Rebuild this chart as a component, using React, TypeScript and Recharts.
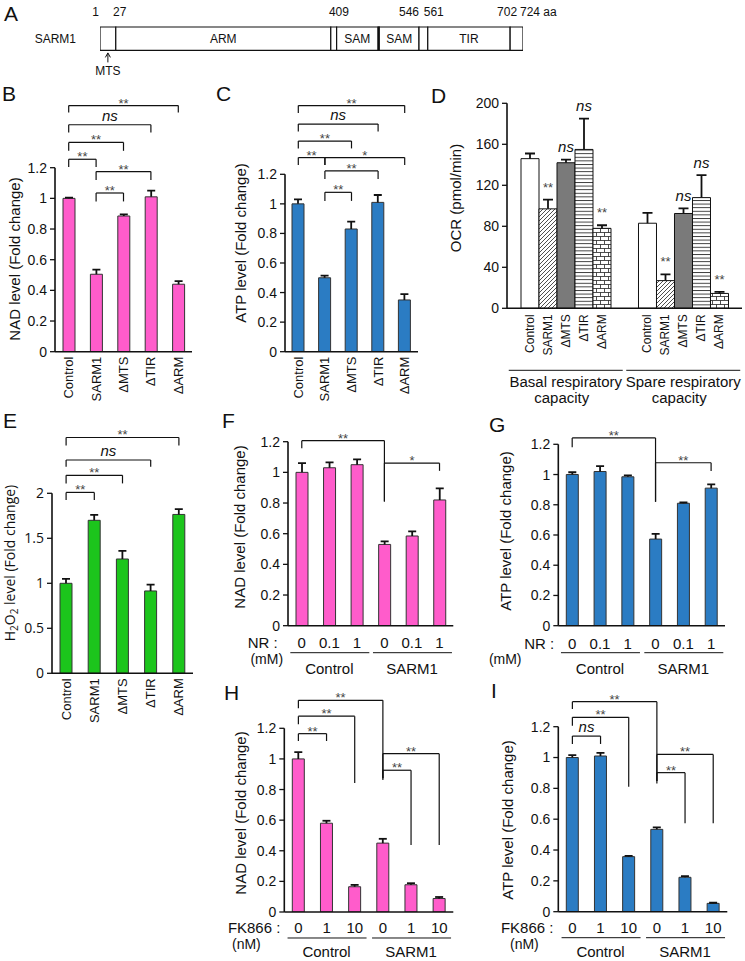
import React from 'react';
import { BarChart, Bar, XAxis, YAxis, ReferenceLine, LabelList } from 'recharts';

const FONT = "'Liberation Sans', Arial, Helvetica, sans-serif";
const INK = '#111';

// ---- A: SARM1 domain map (amino-acid boundaries)
const domainBounds = [0, 27, 395, 405, 476, 478, 546, 561, 702, 724];
const domainNames = ['', 'ARM', '', 'SAM', '', 'SAM', '', 'TIR', ''];
const domainTicks = [1, 27, 409, 546, 561, 702, 724];

// ---- B, C, E: deletion mutants
const mutants = ['Control', 'SARM1', 'ΔMTS', 'ΔTIR', 'ΔARM'];
const nadMutant = [1.0, 0.505, 0.885, 1.01, 0.44];
const nadMutantErr = [0.005, 0.03, 0.01, 0.04, 0.02];
const atpMutant = [1.0, 0.5, 0.83, 1.01, 0.35];
const atpMutantErr = [0.03, 0.015, 0.05, 0.05, 0.04];
const h2o2Mutant = [1.0, 1.7, 1.27, 0.915, 1.765];
const h2o2MutantErr = [0.05, 0.06, 0.09, 0.07, 0.06];

// ---- D: OCR
const ocrGroups = [['Basal respiratory', 'capacity'], ['Spare respiratory', 'capacity']];
const ocrBasal = [146, 97, 142, 155, 78];
const ocrBasalErr = [5, 9, 3, 30, 3];
const ocrSpare = [83, 27, 92.5, 108, 14.5];
const ocrSpareErr = [10, 6, 5, 22, 1.5];
const ocrBasalSig = ['', '**', 'ns', 'ns', '**'];
const ocrSpareSig = ['', '**', 'ns', 'ns', '**'];

// ---- F-I: NR / FK866 treatments
const treatGroups = ['Control', 'SARM1'];
const nrDoses = ['0', '0.1', '1'];
const fkDoses = ['0', '1', '10'];
const nadNr = [1.0, 1.03, 1.05, 0.53, 0.585, 0.82];
const nadNrErr = [0.06, 0.035, 0.035, 0.02, 0.03, 0.075];
const atpNr = [1.0, 1.02, 0.985, 0.573, 0.81, 0.91];
const atpNrErr = [0.015, 0.035, 0.01, 0.035, 0.005, 0.025];
const nadFk = [1.0, 0.58, 0.165, 0.45, 0.178, 0.088];
const nadFkErr = [0.045, 0.016, 0.012, 0.028, 0.01, 0.01];
const atpFk = [1.0, 1.01, 0.357, 0.534, 0.223, 0.054];
const atpFkErr = [0.015, 0.02, 0.005, 0.013, 0.008, 0.004];

const foldTicks = [0, 0.2, 0.4, 0.6, 0.8, 1, 1.2];
const h2o2Ticks = [0, 0.5, 1, 1.5, 2];
const ocrTicks = [0, 40, 80, 120, 160, 200];

type Bracket = { from: string; to: string; y: number; left: number; right: number; sig: string };

const nadMutantSig: Bracket[] = [
  { from: 'Control', to: 'ΔARM', y: 1.605, left: 1.56, right: 1.56, sig: '**' },
  { from: 'Control', to: 'ΔTIR', y: 1.48, left: 1.43, right: 1.43, sig: 'ns' },
  { from: 'Control', to: 'ΔMTS', y: 1.365, left: 1.31, right: 1.31, sig: '**' },
  { from: 'Control', to: 'SARM1', y: 1.255, left: 1.205, right: 1.205, sig: '**' },
  { from: 'SARM1', to: 'ΔTIR', y: 1.175, left: 1.12, right: 1.12, sig: '**' },
  { from: 'SARM1', to: 'ΔMTS', y: 1.035, left: 0.98, right: 0.98, sig: '**' },
];
const atpMutantSig: Bracket[] = [
  { from: 'Control', to: 'ΔARM', y: 1.665, left: 1.615, right: 1.615, sig: '**' },
  { from: 'Control', to: 'ΔTIR', y: 1.54, left: 1.49, right: 1.49, sig: 'ns' },
  { from: 'Control', to: 'ΔMTS', y: 1.425, left: 1.375, right: 1.375, sig: '**' },
  { from: 'Control', to: 'SARM1', y: 1.313, left: 1.263, right: 1.263, sig: '**' },
  { from: 'SARM1', to: 'ΔARM', y: 1.313, left: 1.263, right: 1.263, sig: '*' },
  { from: 'SARM1', to: 'ΔTIR', y: 1.223, left: 1.168, right: 1.168, sig: '**' },
  { from: 'SARM1', to: 'ΔMTS', y: 1.078, left: 1.02, right: 1.02, sig: '**' },
];
const h2o2MutantSig: Bracket[] = [
  { from: 'Control', to: 'ΔARM', y: 2.62, left: 2.53, right: 2.53, sig: '**' },
  { from: 'Control', to: 'ΔTIR', y: 2.37, left: 2.295, right: 2.295, sig: 'ns' },
  { from: 'Control', to: 'ΔMTS', y: 2.2, left: 2.11, right: 2.11, sig: '**' },
  { from: 'Control', to: 'SARM1', y: 2.01, left: 1.925, right: 1.925, sig: '**' },
];
const nadNrSig: Bracket[] = [
  { from: 'Control 0', to: 'SARM1 0', y: 1.207, left: 1.157, right: 0.81, sig: '**' },
  { from: 'SARM1 0', to: 'SARM1 1', y: 1.06, left: 0.81, right: 1.01, sig: '*' },
];
const atpNrSig: Bracket[] = [
  { from: 'Control 0', to: 'SARM1 0', y: 1.242, left: 1.18, right: 0.82, sig: '**' },
  { from: 'SARM1 0', to: 'SARM1 1', y: 1.078, left: 0.82, right: 1.023, sig: '**' },
];
const nadFkSig: Bracket[] = [
  { from: 'Control 0', to: 'SARM1 0', y: 1.383, left: 1.331, right: 0.863, sig: '**' },
  { from: 'Control 0', to: 'Control 10', y: 1.279, left: 1.227, right: 0.842, sig: '**' },
  { from: 'Control 0', to: 'Control 1', y: 1.165, left: 1.117, right: 1.117, sig: '**' },
  { from: 'SARM1 0', to: 'SARM1 10', y: 1.034, left: 0.874, right: 0.437, sig: '**' },
  { from: 'SARM1 0', to: 'SARM1 1', y: 0.926, left: 0.874, right: 0.437, sig: '**' },
];
const atpFkSig: Bracket[] = [
  { from: 'Control 0', to: 'SARM1 0', y: 1.362, left: 1.315, right: 0.832, sig: '**' },
  { from: 'Control 0', to: 'Control 10', y: 1.261, left: 1.206, right: 0.811, sig: '**' },
  { from: 'Control 0', to: 'Control 1', y: 1.139, left: 1.088, right: 1.088, sig: 'ns' },
  { from: 'SARM1 0', to: 'SARM1 10', y: 1.02, left: 0.848, right: 0.573, sig: '**' },
  { from: 'SARM1 0', to: 'SARM1 1', y: 0.902, left: 0.848, right: 0.573, sig: '**' },
];

type Row = { key: string; group?: string; dose?: string; pos?: number; value: number; err: number };

const mutantRows = (values: number[], errs: number[]): Row[] =>
  values.map((v, i) => ({ key: mutants[i], value: v, err: errs[i] }));

const doseRows = (doses: string[], values: number[], errs: number[]): Row[] =>
  values.map((v, i) => {
    const g = Math.floor(i / doses.length);
    const d = i % doses.length;
    return { key: `${treatGroups[g]} ${doses[d]}`, group: treatGroups[g], dose: doses[d], pos: d, value: v, err: errs[i] };
  });

const vbox = (lp: any) => (lp && lp.viewBox && lp.viewBox.width != null ? lp.viewBox : lp);

// upper-only error whisker, drawn as the shape of a stacked bar whose height is the error
const whisker = (cap: number) => (props: any) => {
  const { x, y, width, height } = props;
  if (x == null || y == null) return <g />;
  const cx = x + width / 2;
  return (
    <g>
      <line x1={cx} x2={cx} y1={y} y2={y + height} stroke={INK} strokeWidth={1.8} />
      <line x1={cx - cap / 2} x2={cx + cap / 2} y1={y} y2={y} stroke={INK} strokeWidth={1.8} />
    </g>
  );
};

const sigLabel = (sig: string) => (lp: any) => {
  const vb = vbox(lp);
  const cx = vb.x + vb.width / 2;
  if (sig === 'ns') {
    return (
      <text x={cx} y={vb.y - 4} textAnchor="middle" fontSize={15} fontStyle="italic" fill={INK} fontFamily={FONT}>
        ns
      </text>
    );
  }
  return (
    <text x={cx} y={vb.y + 2} textAnchor="middle" fontSize={13} fill="#444" fontFamily={FONT}>
      {sig}
    </text>
  );
};

const bracketLines = (list: Bracket[], id: string) =>
  list.flatMap((b, i) => [
    <ReferenceLine
      key={`${id}h${i}`}
      segment={[{ x: b.from, y: b.y }, { x: b.to, y: b.y }]}
      stroke={INK}
      strokeWidth={1.2}
      ifOverflow="visible"
      label={sigLabel(b.sig)}
    />,
    <ReferenceLine key={`${id}l${i}`} segment={[{ x: b.from, y: b.y }, { x: b.from, y: b.left }]} stroke={INK} strokeWidth={1.2} ifOverflow="visible" />,
    <ReferenceLine key={`${id}r${i}`} segment={[{ x: b.to, y: b.y }, { x: b.to, y: b.right }]} stroke={INK} strokeWidth={1.2} ifOverflow="visible" />,
  ]);

const RotatedTick = (p: any) => (
  <text transform={`translate(${p.x},${p.y + 5}) rotate(-90)`} textAnchor="end" dominantBaseline="central" fontSize={13} fill={INK} fontFamily={FONT}>
    {p.payload.value}
  </text>
);

type DoseCfg = { prefix: string; unit: string; prefixRight: number; unitCx: number; doseDy: number; unitDy: number; lineDy: number; groupDy: number };

const doseTick = (rows: Row[], c: DoseCfg) => (p: any) => {
  const row = rows.find((r) => r.key === p.payload.value);
  if (!row) return <g />;
  const x = p.x;
  const y = p.y;
  return (
    <g fontFamily={FONT} fill={INK}>
      <text x={x} y={y + c.doseDy} textAnchor="middle" dominantBaseline="central" fontSize={15}>
        {row.dose}
      </text>
      {row.pos === 0 && row.group === treatGroups[0] && (
        <>
          <text x={x + c.prefixRight} y={y + c.doseDy} textAnchor="end" dominantBaseline="central" fontSize={15}>
            {c.prefix}
          </text>
          <text x={x + c.unitCx} y={y + c.unitDy} textAnchor="middle" dominantBaseline="central" fontSize={14}>
            {c.unit}
          </text>
        </>
      )}
      {row.pos === 1 && (
        <>
          <line x1={x - 39} x2={x + 40} y1={y + c.lineDy} y2={y + c.lineDy} stroke={INK} strokeWidth={1} />
          <text x={x} y={y + c.groupDy} textAnchor="middle" dominantBaseline="central" fontSize={15}>
            {row.group}
          </text>
        </>
      )}
    </g>
  );
};

type FoldProps = {
  id: string;
  x: number;
  y: number;
  plot: [number, number, number, number];
  hx: number;
  rows: Row[];
  color: string;
  yMax: number;
  ticks: number[];
  brackets: Bracket[];
  tick: any;
  barSize: number;
  tickFont?: string;
};

function FoldPanel(p: FoldProps) {
  const [l, t, r, b] = p.plot;
  const width = r - p.x + 8;
  const height = b - p.y + p.hx;
  return (
    <div style={{ position: 'absolute', left: p.x, top: p.y }}>
      <BarChart width={width} height={height} data={p.rows} margin={{ top: t - p.y, right: 8, bottom: 0, left: 0 }} barCategoryGap={0}>
        <XAxis
          dataKey="key"
          type="category"
          height={p.hx}
          interval={0}
          tickLine={false}
          tickSize={0}
          tickMargin={0}
          axisLine={{ stroke: INK, strokeWidth: 1.6 }}
          tick={p.tick}
        />
        <YAxis
          type="number"
          width={l - p.x}
          domain={[0, p.yMax]}
          ticks={p.ticks}
          allowDataOverflow
          interval={0}
          tickSize={5}
          tickMargin={3}
          tickLine={{ stroke: INK, strokeWidth: 1.3 }}
          axisLine={{ stroke: INK, strokeWidth: 1.6 }}
          tick={{ fontSize: 14, fill: INK, fontFamily: p.tickFont ?? FONT }}
          tickFormatter={(v: number) => String(v)}
        />
        <Bar dataKey="value" stackId="m" fill={p.color} stroke="#333" strokeWidth={1} barSize={p.barSize} isAnimationActive={false} />
        <Bar dataKey="err" stackId="m" fill="none" barSize={p.barSize} shape={whisker(8)} isAnimationActive={false} />
        {bracketLines(p.brackets, p.id)}
      </BarChart>
    </div>
  );
}

// ---- A
const domainRow = [
  domainBounds.slice(1).reduce((row: any, bnd, i) => ({ ...row, [`d${i}`]: bnd - domainBounds[i] }), { name: 'SARM1' }),
];

const DomainTick = (p: any) => {
  const v = p.payload.value;
  const anchor = v === 546 || v === 702 ? 'end' : v === 561 || v === 724 ? 'start' : 'middle';
  const dx = v === 561 ? -4 : v === 724 ? -3 : v === 702 ? 7 : v === 1 ? -5 : v === 27 ? 4 : 0;
  return (
    <text x={p.x + dx} y={p.y - 14} textAnchor={anchor} dominantBaseline="central" fontSize={12} fill={INK} fontFamily={FONT}>
      {v === 724 ? '724 aa' : v}
    </text>
  );
};

const mtsMarker = (lp: any) => {
  const vb = vbox(lp);
  const cx = vb.x + vb.width / 2;
  const yb = vb.y + vb.height;
  return (
    <g>
      <line x1={cx} x2={cx} y1={yb + 3} y2={yb + 12} stroke={INK} strokeWidth={1} />
      <path d={`M${cx - 2.5},${yb + 7} L${cx},${yb + 2.5} L${cx + 2.5},${yb + 7}`} fill="none" stroke={INK} strokeWidth={1} />
      <text x={cx} y={yb + 21} textAnchor="middle" dominantBaseline="central" fontSize={12} fill={INK} fontFamily={FONT}>
        MTS
      </text>
    </g>
  );
};

function DomainMap() {
  return (
    <div style={{ position: 'absolute', left: 30, top: 0 }}>
      <BarChart width={538} height={86} layout="vertical" data={domainRow} margin={{ top: 4, right: 45, bottom: 34, left: 0 }} barCategoryGap={0}>
        <XAxis
          type="number"
          orientation="top"
          domain={[0, 724]}
          ticks={domainTicks}
          allowDataOverflow
          interval={0}
          height={22}
          axisLine={false}
          tickLine={false}
          tickSize={0}
          tickMargin={0}
          tick={DomainTick}
        />
        <YAxis
          type="category"
          dataKey="name"
          width={70}
          axisLine={false}
          tickLine={false}
          tickSize={0}
          tickMargin={24}
          tick={{ fontSize: 12, fill: INK, fontFamily: FONT }}
        />
        {domainNames.map((n, i) => (
          <Bar key={i} dataKey={`d${i}`} stackId="sarm" fill="#fff" stroke={INK} strokeWidth={1.2} barSize={26} isAnimationActive={false}>
            {i === 0 && <LabelList dataKey={`d${i}`} content={mtsMarker} />}
            {n !== '' && (
              <LabelList
                dataKey={`d${i}`}
                content={(lp: any) => {
                  const vb = vbox(lp);
                  return (
                    <text x={vb.x + vb.width / 2} y={vb.y + vb.height / 2} textAnchor="middle" dominantBaseline="central" fontSize={12} fill={INK} fontFamily={FONT}>
                      {n}
                    </text>
                  );
                }}
              />
            )}
          </Bar>
        ))}
      </BarChart>
    </div>
  );
}

// ---- D
const OCR_BAR = 18;
const ocrFills = ['#ffffff', 'url(#ocrHatch)', '#7a7a7a', 'url(#ocrStripe)', 'url(#ocrBrick)'];
const ocrRows = ocrGroups.map((g, gi) => {
  const vals = gi === 0 ? ocrBasal : ocrSpare;
  const errs = gi === 0 ? ocrBasalErr : ocrSpareErr;
  const sigs = gi === 0 ? ocrBasalSig : ocrSpareSig;
  const row: any = { group: g[0] };
  mutants.forEach((_, i) => {
    row[`m${i}`] = vals[i];
    row[`e${i}`] = errs[i];
    row[`s${i}`] = sigs[i];
  });
  return row;
});

const ocrSigLabel = (lp: any) => {
  const vb = vbox(lp);
  const v = lp.value;
  if (!v) return <g />;
  const cx = vb.x + vb.width / 2;
  if (v === 'ns') {
    return (
      <text x={cx} y={vb.y - 13} textAnchor="middle" dominantBaseline="central" fontSize={15} fontStyle="italic" fill={INK} fontFamily={FONT}>
        ns
      </text>
    );
  }
  return (
    <text x={cx} y={vb.y - 8} textAnchor="middle" fontSize={13} fill="#444" fontFamily={FONT}>
      {v}
    </text>
  );
};

const OcrTick = (p: any) => {
  const idx = ocrGroups.findIndex((g) => g[0] === p.payload.value);
  const lines = ocrGroups[idx] ?? ['', ''];
  const x = p.x;
  const y = p.y;
  return (
    <g fontFamily={FONT} fill={INK}>
      {mutants.map((m, i) => (
        <text key={m} transform={`translate(${x + (i - 2) * OCR_BAR},${y + 6}) rotate(-90)`} textAnchor="end" dominantBaseline="central" fontSize={12}>
          {m}
        </text>
      ))}
      <line x1={x - 57} x2={x + 57} y1={y + 62} y2={y + 62} stroke={INK} strokeWidth={1} />
      <text x={x} y={y + 73} textAnchor="middle" dominantBaseline="central" fontSize={15}>
        {lines[0]}
      </text>
      <text x={x - 4} y={y + 89} textAnchor="middle" dominantBaseline="central" fontSize={15}>
        {lines[1]}
      </text>
    </g>
  );
};

function OcrPanel() {
  const x = 440;
  const y = 92;
  const [l, t, r, b] = [507, 103.3, 742, 308.3];
  return (
    <div style={{ position: 'absolute', left: x, top: y }}>
      <BarChart width={r - x + 3} height={b - y + 100} data={ocrRows} margin={{ top: t - y, right: 3, bottom: 0, left: 0 }} barGap={0} barCategoryGap={0}>
        <defs>
          <pattern id="ocrHatch" patternUnits="userSpaceOnUse" width={4} height={4}>
            <rect width={4} height={4} fill="#fff" />
            <path d="M-1,1 l2,-2 M0,4 l4,-4 M3,5 l2,-2" stroke="#222" strokeWidth={0.8} />
          </pattern>
          <pattern id="ocrStripe" patternUnits="userSpaceOnUse" width={4} height={3.6}>
            <rect width={4} height={3.6} fill="#fff" />
            <line x1={0} x2={4} y1={0.5} y2={0.5} stroke="#222" strokeWidth={0.9} />
          </pattern>
          <pattern id="ocrBrick" patternUnits="userSpaceOnUse" width={8} height={8}>
            <rect width={8} height={8} fill="#fff" />
            <path d="M0,0.5 H8 M0,4.5 H8 M0.5,0.5 V4.5 M4.5,4.5 V8.5" stroke="#222" strokeWidth={0.8} fill="none" />
          </pattern>
        </defs>
        <XAxis
          dataKey="group"
          type="category"
          height={100}
          interval={0}
          tickLine={false}
          tickSize={0}
          tickMargin={0}
          axisLine={{ stroke: INK, strokeWidth: 1.6 }}
          tick={OcrTick}
        />
        <YAxis
          type="number"
          width={l - x}
          domain={[0, 200]}
          ticks={ocrTicks}
          allowDataOverflow
          interval={0}
          tickSize={5}
          tickMargin={3}
          tickLine={{ stroke: INK, strokeWidth: 1.3 }}
          axisLine={{ stroke: INK, strokeWidth: 1.6 }}
          tick={{ fontSize: 14, fill: INK, fontFamily: FONT }}
        />
        {mutants.flatMap((m, i) => [
          <Bar key={`m${i}`} dataKey={`m${i}`} stackId={`s${i}`} fill={ocrFills[i]} stroke={INK} strokeWidth={1} barSize={OCR_BAR} isAnimationActive={false} />,
          <Bar key={`e${i}`} dataKey={`e${i}`} stackId={`s${i}`} fill="none" barSize={OCR_BAR} shape={whisker(10)} isAnimationActive={false}>
            <LabelList dataKey={`s${i}`} content={ocrSigLabel} />
          </Bar>,
        ])}
      </BarChart>
    </div>
  );
}

function VLabel({ x, y, children, size = 15, font = FONT }: { x: number; y: number; children: React.ReactNode; size?: number; font?: string }) {
  return (
    <div
      style={{
        position: 'absolute',
        left: x,
        top: y,
        transform: 'translate(-50%, -50%) rotate(-90deg)',
        whiteSpace: 'nowrap',
        fontSize: size,
        lineHeight: 1,
        fontFamily: font,
        color: INK,
      }}
    >
      {children}
    </div>
  );
}

const panelLetters: [string, number, number][] = [
  ['A', 4, 3],
  ['B', 2, 83],
  ['C', 216, 83],
  ['D', 431, 85],
  ['E', 3, 410],
  ['F', 222, 410],
  ['G', 489, 414],
  ['H', 224, 682],
  ['I', 491, 680],
];

const nadMutantRows = mutantRows(nadMutant, nadMutantErr);
const atpMutantRows = mutantRows(atpMutant, atpMutantErr);
const h2o2MutantRows = mutantRows(h2o2Mutant, h2o2MutantErr);
const nadNrRows = doseRows(nrDoses, nadNr, nadNrErr);
const atpNrRows = doseRows(nrDoses, atpNr, atpNrErr);
const nadFkRows = doseRows(fkDoses, nadFk, nadFkErr);
const atpFkRows = doseRows(fkDoses, atpFk, atpFkErr);

const PINK = '#FF5CCB';
const BLUE = '#2B7CC3';
const GREEN = '#1CC51C';

export default function App() {
  return (
    <div style={{ position: 'absolute', left: 0, top: 0, width: 745, height: 961, background: '#fff', overflow: 'hidden', fontFamily: FONT, color: INK }}>
      <DomainMap />
      <FoldPanel id="b" x={0} y={88} plot={[55, 167.7, 192, 351.7]} hx={52} rows={nadMutantRows} color={PINK} yMax={1.2} ticks={foldTicks} brackets={nadMutantSig} tick={RotatedTick} barSize={12} />
      <FoldPanel id="c" x={225} y={88} plot={[285, 174.3, 418, 351.7]} hx={52} rows={atpMutantRows} color={BLUE} yMax={1.2} ticks={foldTicks} brackets={atpMutantSig} tick={RotatedTick} barSize={12} />
      <OcrPanel />
      <FoldPanel
        id="e"
        x={0}
        y={420}
        plot={[52, 493.3, 193, 673.3]}
        hx={56}
        rows={h2o2MutantRows}
        color={GREEN}
        yMax={2}
        ticks={h2o2Ticks}
        brackets={h2o2MutantSig}
        tick={RotatedTick}
        barSize={12}
        tickFont="'Open Sans', sans-serif"
      />
      <FoldPanel
        id="f"
        x={225}
        y={418}
        plot={[288, 441.7, 453.3, 625.7]}
        hx={52}
        rows={nadNrRows}
        color={PINK}
        yMax={1.2}
        ticks={foldTicks}
        brackets={nadNrSig}
        tick={doseTick(nadNrRows, { prefix: 'NR :', unit: '(mM)', prefixRight: -24, unitCx: -35, doseDy: 17, unitDy: 33, lineDy: 27, groupDy: 43 })}
        barSize={12}
      />
      <FoldPanel
        id="g"
        x={482}
        y={418}
        plot={[558.3, 444.3, 725, 625.7]}
        hx={52}
        rows={atpNrRows}
        color={BLUE}
        yMax={1.2}
        ticks={foldTicks}
        brackets={atpNrSig}
        tick={doseTick(atpNrRows, { prefix: 'NR :', unit: '(mM)', prefixRight: -18, unitCx: -67, doseDy: 18, unitDy: 33, lineDy: 27, groupDy: 43 })}
        barSize={12}
      />
      <FoldPanel
        id="h"
        x={225}
        y={680}
        plot={[284.3, 728.3, 453.3, 912]}
        hx={49}
        rows={nadFkRows}
        color={PINK}
        yMax={1.2}
        ticks={foldTicks}
        brackets={nadFkSig}
        tick={doseTick(nadFkRows, { prefix: 'FK866 :', unit: '(nM)', prefixRight: -18, unitCx: -52, doseDy: 16, unitDy: 32, lineDy: 26, groupDy: 40 })}
        barSize={12}
      />
      <FoldPanel
        id="i"
        x={485}
        y={680}
        plot={[558.3, 726.7, 727.3, 911.7]}
        hx={49}
        rows={atpFkRows}
        color={BLUE}
        yMax={1.2}
        ticks={foldTicks}
        brackets={atpFkSig}
        tick={doseTick(atpFkRows, { prefix: 'FK866 :', unit: '(nM)', prefixRight: -19, unitCx: -48, doseDy: 16, unitDy: 32, lineDy: 26, groupDy: 40 })}
        barSize={12}
      />

      <VLabel x={14} y={259}>NAD level (Fold change)</VLabel>
      <VLabel x={240} y={243}>ATP level (Fold change)</VLabel>
      <VLabel x={455} y={198}>OCR (pmol/min)</VLabel>
      <VLabel x={11} y={563} font="'Open Sans', sans-serif" size={14}>
        H<sub style={{ fontSize: 10 }}>2</sub>O<sub style={{ fontSize: 10 }}>2</sub> level (Fold change)
      </VLabel>
      <VLabel x={239} y={527}>NAD level (Fold change)</VLabel>
      <VLabel x={505} y={531}>ATP level (Fold change)</VLabel>
      <VLabel x={240} y={813}>NAD level (Fold change)</VLabel>
      <VLabel x={507} y={820}>ATP level (Fold change)</VLabel>

      {panelLetters.map(([t, x, y]) => (
        <div key={t} style={{ position: 'absolute', left: x, top: y, fontSize: 21, lineHeight: 1, fontFamily: FONT, color: INK }}>
          {t}
        </div>
      ))}
    </div>
  );
}
